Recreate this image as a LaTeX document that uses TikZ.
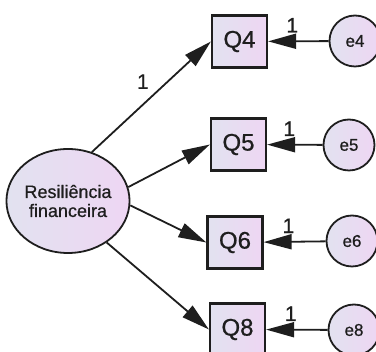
\documentclass[tikz,border=0pt]{standalone}
\usepackage{fontspec}
\setmainfont{Liberation Sans}[FakeBold=0.7]
\usetikzlibrary{arrows.meta,shapes.geometric}
\definecolor{fillL}{RGB}{226,226,240}
\definecolor{fillR}{RGB}{238,214,243}
\definecolor{ink}{RGB}{30,30,30}
\tikzset{
  obs/.style={draw=ink, line width=2.2pt, minimum width=55pt, minimum height=52pt,
    inner sep=0pt, left color=fillL, right color=fillR, text=ink,
    font=\fontsize{24}{24}\selectfont},
  err/.style={draw=ink, circle, line width=1.8pt, minimum size=51pt, inner sep=0pt,
    left color=fillL, right color=fillR, text=ink,
    font=\fontsize{17}{17}\selectfont},
  latent/.style={draw=ink, ellipse, line width=1.8pt, minimum width=116pt,
    minimum height=104pt, inner sep=0pt, left color=fillL, right color=fillR,
    text=ink, align=center, font=\fontsize{18}{19}\selectfont},
  path/.style={draw=ink, line width=1.8pt,
    -{Triangle[length=28pt,width=15pt]}},
  wt/.style={text=ink, font=\fontsize{21}{21}\selectfont, inner sep=0pt}
}
\begin{document}
\begin{tikzpicture}[x=1pt,y=-1pt]
\useasboundingbox (0,0) rectangle (376,352);
% latent factor
\node[latent] (F) at (68,201) {Resiliência\\financeira};
% observed indicators
\node[obs] (Q4) at (239.5,41.5) {Q4};
\node[obs] (Q5) at (238.5,144.5) {Q5};
\node[obs] (Q6) at (235,242.5) {Q6};
\node[obs] (Q8) at (237.5,329.5) {Q8};
% error terms
\node[err] (e4) at (355,41) {e4};
\node[err] (e5) at (349,145) {e5};
\node[err] (e6) at (352,241) {e6};
\node[err] (e8) at (354,330) {e8};
% factor loadings
\draw[path] (F.64) -- node[wt, pos=0.42, xshift=1pt, yshift=24pt] {1} (Q4.west);
\draw[path] (F.13) -- (Q5.west);
\draw[path] (F.-4) -- (Q6.west);
\draw[path] (F.-47) -- (Q8.west);
% error paths
\draw[path] (e4) -- node[wt, pos=0.6, yshift=16pt] {1} (Q4);
\draw[path] (e5) -- node[wt, pos=0.6, yshift=16pt] {1} (Q5);
\draw[path] (e6) -- node[wt, pos=0.6, yshift=16pt] {1} (Q6);
\draw[path] (e8) -- node[wt, pos=0.6, yshift=16pt] {1} (Q8);
\end{tikzpicture}
\end{document}
